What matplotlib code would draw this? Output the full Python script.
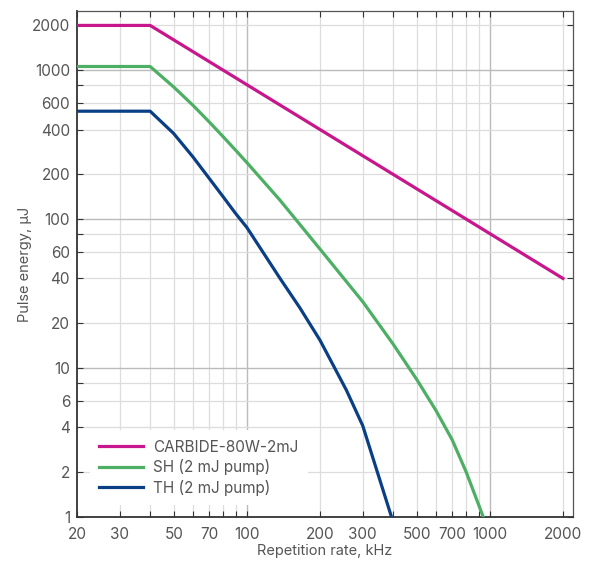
import matplotlib
matplotlib.use("Agg")
import matplotlib.pyplot as plt
from matplotlib.ticker import FixedLocator, NullLocator

plt.rcParams['font.family'] = ['Inter', 'DejaVu Sans']

# Data
carbide_f = [20, 40, 2000]
carbide_e = [2000, 2000, 40]

sh_f = [20, 40, 50, 60, 70, 80, 90, 100, 137, 200, 300, 400, 500, 600, 700, 800, 940]
sh_e = [1060, 1060, 772, 582, 450, 357, 290, 240, 134, 63, 27.9, 14.5, 8.4, 5.2, 3.3, 2.0, 1.0]

th_f = [20, 40, 50, 60, 70, 80, 90, 100, 137, 165, 200, 257, 300, 394]
th_e = [531, 531, 376, 262, 188, 141, 109, 88, 40, 25.5, 15.4, 7.1, 4.1, 1.0]

labels = ["CARBIDE-80W-2mJ", "SH (2 mJ pump)", "TH (2 mJ pump)"]
colors = ["#C8168C", "#4CAF64", "#0B3F85"]

x_ticks = [20, 30, 40, 50, 60, 70, 80, 90, 100, 200, 300, 400, 500, 600, 700, 800, 900, 1000, 2000]
x_labels = {20: "20", 30: "30", 50: "50", 70: "70", 100: "100", 200: "200", 300: "300",
            500: "500", 700: "700", 1000: "1000", 2000: "2000"}
y_ticks = [1, 2, 4, 6, 8, 10, 20, 40, 60, 80, 100, 200, 400, 600, 800, 1000, 2000]
y_labels = {1: "1", 2: "2", 4: "4", 6: "6", 10: "10", 20: "20", 40: "40", 60: "60",
            100: "100", 200: "200", 400: "400", 600: "600", 1000: "1000", 2000: "2000"}

fig = plt.figure(figsize=(5.96, 5.62), dpi=100)
ax = fig.add_axes([77/596, 1-517/562, (573-77)/596, (517-11)/562])
ax.set_xscale('log')
ax.set_yscale('log')
ax.set_xlim(20, 2200)
ax.set_ylim(1, 2500)

major_x = [100, 1000]
major_y = [10, 100, 1000]
for v in x_ticks:
    if v == 20:
        continue
    ax.axvline(v, color="#BBBBBB" if v in major_x else "#DDDDDD", lw=1.0 if v in major_x else 0.9, zorder=0)
for v in y_ticks:
    if v == 1:
        continue
    ax.axhline(v, color="#BBBBBB" if v in major_y else "#DDDDDD", lw=1.0 if v in major_y else 0.9, zorder=0)

lines = []
for f, e, c, l in [(carbide_f, carbide_e, colors[0], labels[0]),
                   (sh_f, sh_e, colors[1], labels[1]),
                   (th_f, th_e, colors[2], labels[2])]:
    ln, = ax.plot(f, e, color=c, lw=2.3, label=l, zorder=3, solid_joinstyle='round')
    lines.append(ln)

ax.xaxis.set_major_locator(FixedLocator(x_ticks))
ax.xaxis.set_minor_locator(NullLocator())
ax.set_xticklabels([x_labels.get(v, "") for v in x_ticks])
ax.yaxis.set_major_locator(FixedLocator(y_ticks))
ax.yaxis.set_minor_locator(NullLocator())
ax.set_yticklabels([y_labels.get(v, "") for v in y_ticks])

ax.tick_params(axis='both', which='both', direction='in', length=4, width=0.8,
               color="#333333", labelcolor="#555555", labelsize=11,
               top=True, right=True)
ax.tick_params(axis='x', pad=7)
ax.tick_params(axis='y', pad=5)

for s in ['left', 'bottom']:
    ax.spines[s].set_color("#333333")
    ax.spines[s].set_linewidth(1.3)
for s in ['top', 'right']:
    ax.spines[s].set_color("#555555")
    ax.spines[s].set_linewidth(0.9)

ax.set_xlabel("Repetition rate, kHz", fontsize=10.5, color="#555555", labelpad=2)
ax.set_ylabel("Pulse energy, μJ", fontsize=10.5, color="#555555", labelpad=0)

leg = ax.legend(handles=lines, loc='lower left', bbox_to_anchor=(0.026, 0.024),
                frameon=True, fancybox=False, framealpha=1, facecolor='white',
                edgecolor='none', fontsize=11, handlelength=2.9, handletextpad=0.65,
                labelspacing=0.3, borderpad=0.6, borderaxespad=0.0)
for t in leg.get_texts():
    t.set_color("#555555")
leg.set_zorder(2)

fig.savefig("out.png", dpi=100)
